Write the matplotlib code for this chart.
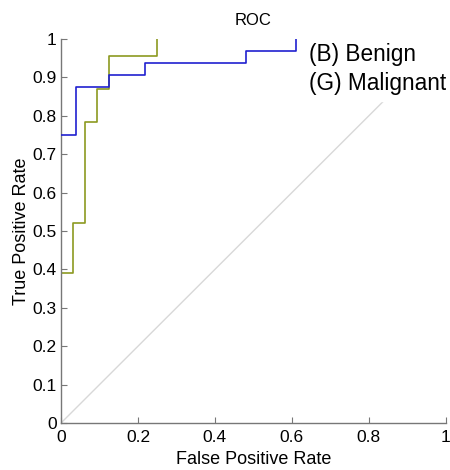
import numpy as np
import matplotlib.pyplot as plt

plt.rcParams['font.family'] = ['Liberation Sans', 'DejaVu Sans']

# ROC step curves (false positive rate, true positive rate)
benign_fpr = [0, 0.04, 0.04, 0.125, 0.125, 0.21875, 0.21875, 0.48, 0.48, 0.61, 0.61]
benign_tpr = [0.75, 0.75, 0.875, 0.875, 0.906, 0.906, 0.9375, 0.9375, 0.969, 0.969, 1.0]

malig_fpr = [0, 0.03125, 0.03125, 0.0625, 0.0625, 0.09375, 0.09375, 0.125, 0.125, 0.25, 0.25]
malig_tpr = [0.391, 0.391, 0.522, 0.522, 0.783, 0.783, 0.870, 0.870, 0.957, 0.957, 1.0]

fig = plt.figure(figsize=(4.5, 4.7), dpi=100)
ax = fig.add_axes([0.1356, 0.1, 0.855, 0.817])

ax.plot([0, 1], [0, 1], color='#d8d8d8', lw=1, zorder=1)
ax.plot(benign_fpr, benign_tpr, color='#2020d0', lw=1.2, label='(B) Benign', zorder=3)
ax.plot(malig_fpr, malig_tpr, color='#8c9a20', lw=1.2, label='(G) Malignant', zorder=2)

ax.set_xlim(0, 1)
ax.set_ylim(0, 1)
ax.set_xticks(np.arange(0, 1.01, 0.2))
ax.set_xticklabels(['0', '0.2', '0.4', '0.6', '0.8', '1'])
ax.set_yticks(np.arange(0, 1.01, 0.1))
ax.set_yticklabels(['0', '0.1', '0.2', '0.3', '0.4', '0.5', '0.6', '0.7', '0.8', '0.9', '1'])
ax.tick_params(direction='in', length=4, width=0.8, color='#777777', labelsize=12.5)
ax.tick_params(axis='x', pad=5)
ax.tick_params(axis='y', pad=3)
for side in ['top', 'right']:
    ax.spines[side].set_visible(False)
for side in ['left', 'bottom']:
    ax.spines[side].set_color('#777777')
    ax.spines[side].set_linewidth(1.0)

ax.set_xlabel('False Positive Rate', fontsize=13, labelpad=4)
ax.set_ylabel('True Positive Rate', fontsize=13, labelpad=2)
ax.set_title('ROC', fontsize=12, pad=10)

leg = ax.legend(loc='upper right', bbox_to_anchor=(1.045, 1.035), handlelength=0, handletextpad=0,
                fontsize=16.3, frameon=True, fancybox=False, borderpad=0.25, labelspacing=0.3)
leg.get_frame().set_edgecolor('white')
leg.get_frame().set_facecolor('white')
leg.get_frame().set_alpha(1)
leg.set_zorder(10)
for h in leg.legend_handles:
    h.set_visible(False)

fig.savefig('out.png', dpi=100)
